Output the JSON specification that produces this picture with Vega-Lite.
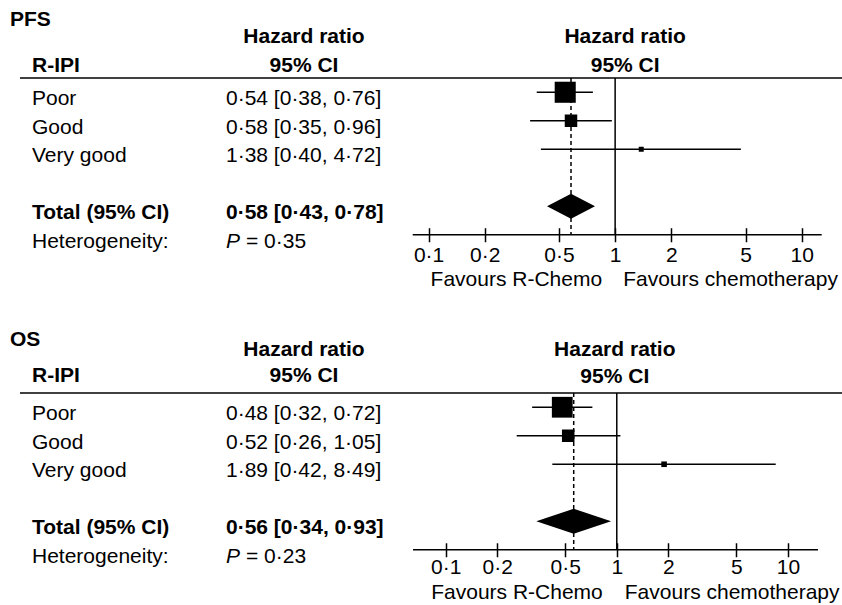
{
  "$schema": "https://vega.github.io/schema/vega-lite/v6.json",
  "background": "white",
  "padding": {"left": 10, "top": 9, "right": 0, "bottom": 0},
  "bounds": "flush",
  "datasets": {
    "pfs": [
      {"row": "hdr1", "head": "Hazard ratio", "panel": "PFS"},
      {"row": "hdr2", "head": "95% CI", "colhead": "R-IPI"},
      {"row": "Poor", "label": "Poor", "ci": "0·54 [0·38, 0·76]", "hr": 0.54, "lo": 0.38, "hi": 0.76, "weight": 71},
      {"row": "Good", "label": "Good", "ci": "0·58 [0·35, 0·96]", "hr": 0.58, "lo": 0.35, "hi": 0.96, "weight": 25},
      {"row": "Very good", "label": "Very good", "ci": "1·38 [0·40, 4·72]", "hr": 1.38, "lo": 0.40, "hi": 4.72, "weight": 4},
      {"row": "Total", "label": "Total (95% CI)", "ci": "0·58 [0·43, 0·78]", "hr": 0.58, "lo": 0.43, "hi": 0.78},
      {"row": "Het", "label": "Heterogeneity:", "p": "= 0·35", "favL": "Favours R-Chemo", "favR": "Favours chemotherapy"}
    ],
    "os": [
      {"row": "hdr1", "head": "Hazard ratio", "panel": "OS"},
      {"row": "hdr2", "head": "95% CI", "colhead": "R-IPI"},
      {"row": "Poor", "label": "Poor", "ci": "0·48 [0·32, 0·72]", "hr": 0.48, "lo": 0.32, "hi": 0.72, "weight": 69},
      {"row": "Good", "label": "Good", "ci": "0·52 [0·26, 1·05]", "hr": 0.52, "lo": 0.26, "hi": 1.05, "weight": 25},
      {"row": "Very good", "label": "Very good", "ci": "1·89 [0·42, 8·49]", "hr": 1.89, "lo": 0.42, "hi": 8.49, "weight": 5},
      {"row": "Total", "label": "Total (95% CI)", "ci": "0·56 [0·34, 0·93]", "hr": 0.56, "lo": 0.34, "hi": 0.93},
      {"row": "Het", "label": "Heterogeneity:", "p": "= 0·23", "favL": "Favours R-Chemo", "favR": "Favours chemotherapy"}
    ]
  },
  "spacing": 87,
  "vconcat": [
    {
      "data": {"name": "pfs"},
      "width": 822,
      "height": 228,
      "encoding": {"y": {"field": "row", "type": "nominal", "scale": {"type": "band", "domain": ["hdr1", "hdr2", "Poor", "Good", "Very good", "gap", "Total", "Het"], "paddingInner": 0, "paddingOuter": 0}, "axis": null}},
      "layer": [
        {"layer": [
          {"transform": [{"filter": "datum.row=='Poor'||datum.row=='Good'||datum.row=='Very good'||datum.row=='Het'"}, {"fold": ["label", "ci"], "as": ["col", "txt"]}, {"filter": "isValid(datum.txt)"}],
           "mark": {"type": "text", "align": "left", "dy": 7},
           "encoding": {"x": {"field": "col", "type": "nominal", "scale": {"type": "point", "domain": ["label", "ci"], "range": [12, 206], "padding": 0}, "axis": null}, "text": {"field": "txt"}}},
          {"transform": [{"filter": "datum.row=='Total'"}, {"fold": ["label", "ci"], "as": ["col", "txt"]}],
           "mark": {"type": "text", "align": "left", "dy": 7, "fontWeight": "bold"},
           "encoding": {"x": {"field": "col", "type": "nominal", "axis": null}, "text": {"field": "txt"}}},
          {"transform": [{"filter": "datum.row=='Het'"}],
           "mark": {"type": "text", "align": "left", "dy": 7, "fontStyle": "italic"},
           "encoding": {"x": {"datum": "ci", "type": "nominal", "axis": null}, "text": {"value": "P"}}},
          {"transform": [{"filter": "datum.row=='Het'"}],
           "mark": {"type": "text", "align": "left", "dy": 7, "dx": 20},
           "encoding": {"x": {"datum": "ci", "type": "nominal", "axis": null}, "text": {"field": "p"}}},
          {"transform": [{"filter": "isValid(datum.head)"}],
           "mark": {"type": "text", "align": "center", "dy": 2, "dx": 78, "fontWeight": "bold"},
           "encoding": {"x": {"datum": "ci", "type": "nominal", "axis": null}, "text": {"field": "head"}}},
          {"transform": [{"filter": "isValid(datum.colhead)"}],
           "mark": {"type": "text", "align": "left", "dy": 2, "fontWeight": "bold"},
           "encoding": {"x": {"datum": "label", "type": "nominal", "axis": null}, "text": {"field": "colhead"}}},
          {"transform": [{"filter": "isValid(datum.panel)"}],
           "mark": {"type": "text", "align": "left", "dy": -15, "dx": -22, "fontWeight": "bold"},
           "encoding": {"x": {"datum": "label", "type": "nominal", "axis": null}, "text": {"field": "panel"}}}
        ]},
        {"layer": [
          {"transform": [{"filter": "datum.row=='Total'"}],
           "mark": {"type": "rule", "strokeWidth": 1.5, "color": "black"},
           "encoding": {"y": {"datum": "Poor", "type": "nominal", "bandPosition": 0, "axis": null}}},
          {"transform": [{"filter": "datum.row=='Total'"}],
           "mark": {"type": "rule", "strokeWidth": 1.5, "color": "black"},
           "encoding": {"x": {"datum": 1, "type": "quantitative", "scale": {"type": "log", "domain": [0.0822, 12.8], "range": [392.7, 801.7], "nice": false},
                              "axis": {"values": [0.1, 0.2, 0.5, 1, 2, 5, 10], "format": "~g", "labelExpr": "replace(datum.label, '.', '·')", "domain": false, "ticks": true, "tickSize": 14, "tickWidth": 1.5, "tickColor": "black", "offset": -21.25, "labelFontSize": 21, "labelColor": "black", "labelFont": "Liberation Sans", "labelPadding": 3, "grid": false, "title": null, "labelFlush": false, "labelOverlap": false}},
                        "y": {"datum": "Poor", "type": "nominal", "bandPosition": 0, "axis": null}, "y2": {"datum": "Het"}}},
          {"transform": [{"filter": "datum.row=='Total'"}],
           "mark": {"type": "rule", "strokeWidth": 1.5, "color": "black", "strokeDash": [4, 3]},
           "encoding": {"x": {"field": "hr", "type": "quantitative", "title": null, "scale": {"type": "log", "domain": [0.0822, 12.8], "range": [392.7, 801.7], "nice": false},
                              "axis": {"values": [0.1, 0.2, 0.5, 1, 2, 5, 10], "format": "~g", "labelExpr": "replace(datum.label, '.', '·')", "domain": false, "ticks": true, "tickSize": 14, "tickWidth": 1.5, "tickColor": "black", "offset": -21.25, "labelFontSize": 21, "labelColor": "black", "labelFont": "Liberation Sans", "labelPadding": 3, "grid": false, "title": null, "labelFlush": false, "labelOverlap": false}},
                        "y": {"datum": "Poor", "type": "nominal", "bandPosition": 0, "axis": null}, "y2": {"datum": "Het"}}},
          {"transform": [{"filter": "isValid(datum.weight)"}],
           "mark": {"type": "rule", "strokeWidth": 1.5, "color": "black"},
           "encoding": {"x": {"field": "lo", "type": "quantitative", "title": null, "scale": {"type": "log", "domain": [0.0822, 12.8], "range": [392.7, 801.7], "nice": false},
                              "axis": {"values": [0.1, 0.2, 0.5, 1, 2, 5, 10], "format": "~g", "labelExpr": "replace(datum.label, '.', '·')", "domain": false, "ticks": true, "tickSize": 14, "tickWidth": 1.5, "tickColor": "black", "offset": -21.25, "labelFontSize": 21, "labelColor": "black", "labelFont": "Liberation Sans", "labelPadding": 3, "grid": false, "title": null, "labelFlush": false, "labelOverlap": false}},
                        "x2": {"field": "hi"}}},
          {"transform": [{"filter": "isValid(datum.weight)"}],
           "mark": {"type": "point", "shape": "square", "filled": true, "color": "black", "opacity": 1},
           "encoding": {"x": {"field": "hr", "type": "quantitative", "title": null, "scale": {"type": "log", "domain": [0.0822, 12.8], "range": [392.7, 801.7], "nice": false},
                              "axis": {"values": [0.1, 0.2, 0.5, 1, 2, 5, 10], "format": "~g", "labelExpr": "replace(datum.label, '.', '·')", "domain": false, "ticks": true, "tickSize": 14, "tickWidth": 1.5, "tickColor": "black", "offset": -21.25, "labelFontSize": 21, "labelColor": "black", "labelFont": "Liberation Sans", "labelPadding": 3, "grid": false, "title": null, "labelFlush": false, "labelOverlap": false}},
                        "size": {"field": "weight", "type": "quantitative", "scale": {"domain": [0, 100], "range": [0, 625]}, "legend": null}}},
          {"transform": [{"filter": "datum.row=='Total'"}],
           "mark": {"type": "point", "shape": "M-1,0L0,-0.521L1,0L0,0.521Z", "size": 2304, "filled": true, "color": "black", "opacity": 1, "strokeWidth": 0},
           "encoding": {"x": {"field": "hr", "type": "quantitative", "title": null, "scale": {"type": "log", "domain": [0.0822, 12.8], "range": [392.7, 801.7], "nice": false},
                              "axis": {"values": [0.1, 0.2, 0.5, 1, 2, 5, 10], "format": "~g", "labelExpr": "replace(datum.label, '.', '·')", "domain": false, "ticks": true, "tickSize": 14, "tickWidth": 1.5, "tickColor": "black", "offset": -21.25, "labelFontSize": 21, "labelColor": "black", "labelFont": "Liberation Sans", "labelPadding": 3, "grid": false, "title": null, "labelFlush": false, "labelOverlap": false}}}},
          {"transform": [{"filter": "datum.row=='Total'"}],
           "mark": {"type": "rule", "strokeWidth": 1.5, "color": "black"},
           "encoding": {"x": {"datum": 0.0822, "type": "quantitative", "scale": {"type": "log", "domain": [0.0822, 12.8], "range": [392.7, 801.7], "nice": false},
                              "axis": {"values": [0.1, 0.2, 0.5, 1, 2, 5, 10], "format": "~g", "labelExpr": "replace(datum.label, '.', '·')", "domain": false, "ticks": true, "tickSize": 14, "tickWidth": 1.5, "tickColor": "black", "offset": -21.25, "labelFontSize": 21, "labelColor": "black", "labelFont": "Liberation Sans", "labelPadding": 3, "grid": false, "title": null, "labelFlush": false, "labelOverlap": false}},
                        "x2": {"datum": 12.8},
                        "y": {"datum": "Het", "type": "nominal", "axis": null}}},
          {"transform": [{"filter": "isValid(datum.head)"}],
           "mark": {"type": "text", "align": "center", "dy": 2, "dx": 10, "fontWeight": "bold"},
           "encoding": {"x": {"datum": 1, "type": "quantitative", "scale": {"type": "log", "domain": [0.0822, 12.8], "range": [392.7, 801.7], "nice": false},
                              "axis": {"values": [0.1, 0.2, 0.5, 1, 2, 5, 10], "format": "~g", "labelExpr": "replace(datum.label, '.', '·')", "domain": false, "ticks": true, "tickSize": 14, "tickWidth": 1.5, "tickColor": "black", "offset": -21.25, "labelFontSize": 21, "labelColor": "black", "labelFont": "Liberation Sans", "labelPadding": 3, "grid": false, "title": null, "labelFlush": false, "labelOverlap": false}},
                        "text": {"field": "head"}}},
          {"transform": [{"filter": "datum.row=='Het'"}],
           "mark": {"type": "text", "align": "right", "dy": 45, "dx": -13},
           "encoding": {"x": {"datum": 1, "type": "quantitative", "scale": {"type": "log", "domain": [0.0822, 12.8], "range": [392.7, 801.7], "nice": false},
                              "axis": {"values": [0.1, 0.2, 0.5, 1, 2, 5, 10], "format": "~g", "labelExpr": "replace(datum.label, '.', '·')", "domain": false, "ticks": true, "tickSize": 14, "tickWidth": 1.5, "tickColor": "black", "offset": -21.25, "labelFontSize": 21, "labelColor": "black", "labelFont": "Liberation Sans", "labelPadding": 3, "grid": false, "title": null, "labelFlush": false, "labelOverlap": false}},
                        "text": {"field": "favL"}}},
          {"transform": [{"filter": "datum.row=='Het'"}],
           "mark": {"type": "text", "align": "left", "dy": 45, "dx": 8},
           "encoding": {"x": {"datum": 1, "type": "quantitative", "scale": {"type": "log", "domain": [0.0822, 12.8], "range": [392.7, 801.7], "nice": false},
                              "axis": {"values": [0.1, 0.2, 0.5, 1, 2, 5, 10], "format": "~g", "labelExpr": "replace(datum.label, '.', '·')", "domain": false, "ticks": true, "tickSize": 14, "tickWidth": 1.5, "tickColor": "black", "offset": -21.25, "labelFontSize": 21, "labelColor": "black", "labelFont": "Liberation Sans", "labelPadding": 3, "grid": false, "title": null, "labelFlush": false, "labelOverlap": false}},
                        "text": {"field": "favR"}}}
        ]}
      ],
      "resolve": {"scale": {"x": "independent"}}
    },
    {
      "data": {"name": "os"},
      "width": 822,
      "height": 228,
      "encoding": {"y": {"field": "row", "type": "nominal", "scale": {"type": "band", "domain": ["hdr1", "hdr2", "Poor", "Good", "Very good", "gap", "Total", "Het"], "paddingInner": 0, "paddingOuter": 0}, "axis": null}},
      "layer": [
        {"layer": [
          {"transform": [{"filter": "datum.row=='Poor'||datum.row=='Good'||datum.row=='Very good'||datum.row=='Het'"}, {"fold": ["label", "ci"], "as": ["col", "txt"]}, {"filter": "isValid(datum.txt)"}],
           "mark": {"type": "text", "align": "left", "dy": 7},
           "encoding": {"x": {"field": "col", "type": "nominal", "scale": {"type": "point", "domain": ["label", "ci"], "range": [12, 206], "padding": 0}, "axis": null}, "text": {"field": "txt"}}},
          {"transform": [{"filter": "datum.row=='Total'"}, {"fold": ["label", "ci"], "as": ["col", "txt"]}],
           "mark": {"type": "text", "align": "left", "dy": 7, "fontWeight": "bold"},
           "encoding": {"x": {"field": "col", "type": "nominal", "axis": null}, "text": {"field": "txt"}}},
          {"transform": [{"filter": "datum.row=='Het'"}],
           "mark": {"type": "text", "align": "left", "dy": 7, "fontStyle": "italic"},
           "encoding": {"x": {"datum": "ci", "type": "nominal", "axis": null}, "text": {"value": "P"}}},
          {"transform": [{"filter": "datum.row=='Het'"}],
           "mark": {"type": "text", "align": "left", "dy": 7, "dx": 20},
           "encoding": {"x": {"datum": "ci", "type": "nominal", "axis": null}, "text": {"field": "p"}}},
          {"transform": [{"filter": "datum.row=='hdr1'"}],
           "mark": {"type": "text", "align": "center", "dy": 0, "dx": 78, "fontWeight": "bold"},
           "encoding": {"x": {"datum": "ci", "type": "nominal", "axis": null}, "text": {"field": "head"}}},
          {"transform": [{"filter": "datum.row=='hdr2'"}],
           "mark": {"type": "text", "align": "center", "dy": -3, "dx": 78, "fontWeight": "bold"},
           "encoding": {"x": {"datum": "ci", "type": "nominal", "axis": null}, "text": {"field": "head"}}},
          {"transform": [{"filter": "isValid(datum.colhead)"}],
           "mark": {"type": "text", "align": "left", "dy": -3, "fontWeight": "bold"},
           "encoding": {"x": {"datum": "label", "type": "nominal", "axis": null}, "text": {"field": "colhead"}}},
          {"transform": [{"filter": "isValid(datum.panel)"}],
           "mark": {"type": "text", "align": "left", "dy": -10, "dx": -22, "fontWeight": "bold"},
           "encoding": {"x": {"datum": "label", "type": "nominal", "axis": null}, "text": {"field": "panel"}}}
        ]},
        {"layer": [
          {"transform": [{"filter": "datum.row=='Total'"}],
           "mark": {"type": "rule", "strokeWidth": 1.5, "color": "black"},
           "encoding": {"y": {"datum": "Poor", "type": "nominal", "bandPosition": 0, "axis": null}}},
          {"transform": [{"filter": "datum.row=='Total'"}],
           "mark": {"type": "rule", "strokeWidth": 1.5, "color": "black"},
           "encoding": {"x": {"datum": 1, "type": "quantitative", "scale": {"type": "log", "domain": [0.0644, 15.0], "range": [393, 798], "nice": false},
                              "axis": {"values": [0.1, 0.2, 0.5, 1, 2, 5, 10], "format": "~g", "labelExpr": "replace(datum.label, '.', '·')", "domain": false, "ticks": true, "tickSize": 14, "tickWidth": 1.5, "tickColor": "black", "offset": -21.25, "labelFontSize": 21, "labelColor": "black", "labelFont": "Liberation Sans", "labelPadding": 0, "grid": false, "title": null, "labelFlush": false, "labelOverlap": false}},
                        "y": {"datum": "Poor", "type": "nominal", "bandPosition": 0, "axis": null}, "y2": {"datum": "Het"}}},
          {"transform": [{"filter": "datum.row=='Total'"}],
           "mark": {"type": "rule", "strokeWidth": 1.5, "color": "black", "strokeDash": [4, 3]},
           "encoding": {"x": {"field": "hr", "type": "quantitative", "title": null, "scale": {"type": "log", "domain": [0.0644, 15.0], "range": [393, 798], "nice": false},
                              "axis": {"values": [0.1, 0.2, 0.5, 1, 2, 5, 10], "format": "~g", "labelExpr": "replace(datum.label, '.', '·')", "domain": false, "ticks": true, "tickSize": 14, "tickWidth": 1.5, "tickColor": "black", "offset": -21.25, "labelFontSize": 21, "labelColor": "black", "labelFont": "Liberation Sans", "labelPadding": 0, "grid": false, "title": null, "labelFlush": false, "labelOverlap": false}},
                        "y": {"datum": "Poor", "type": "nominal", "bandPosition": 0, "axis": null}, "y2": {"datum": "Het"}}},
          {"transform": [{"filter": "isValid(datum.weight)"}],
           "mark": {"type": "rule", "strokeWidth": 1.5, "color": "black"},
           "encoding": {"x": {"field": "lo", "type": "quantitative", "title": null, "scale": {"type": "log", "domain": [0.0644, 15.0], "range": [393, 798], "nice": false},
                              "axis": {"values": [0.1, 0.2, 0.5, 1, 2, 5, 10], "format": "~g", "labelExpr": "replace(datum.label, '.', '·')", "domain": false, "ticks": true, "tickSize": 14, "tickWidth": 1.5, "tickColor": "black", "offset": -21.25, "labelFontSize": 21, "labelColor": "black", "labelFont": "Liberation Sans", "labelPadding": 0, "grid": false, "title": null, "labelFlush": false, "labelOverlap": false}},
                        "x2": {"field": "hi"}}},
          {"transform": [{"filter": "isValid(datum.weight)"}],
           "mark": {"type": "point", "shape": "square", "filled": true, "color": "black", "opacity": 1},
           "encoding": {"x": {"field": "hr", "type": "quantitative", "title": null, "scale": {"type": "log", "domain": [0.0644, 15.0], "range": [393, 798], "nice": false},
                              "axis": {"values": [0.1, 0.2, 0.5, 1, 2, 5, 10], "format": "~g", "labelExpr": "replace(datum.label, '.', '·')", "domain": false, "ticks": true, "tickSize": 14, "tickWidth": 1.5, "tickColor": "black", "offset": -21.25, "labelFontSize": 21, "labelColor": "black", "labelFont": "Liberation Sans", "labelPadding": 0, "grid": false, "title": null, "labelFlush": false, "labelOverlap": false}},
                        "size": {"field": "weight", "type": "quantitative", "scale": {"domain": [0, 100], "range": [0, 625]}, "legend": null}}},
          {"transform": [{"filter": "datum.row=='Total'"}],
           "mark": {"type": "point", "shape": "M-1,0L0,-0.334L1,0L0,0.334Z", "size": 5595, "filled": true, "color": "black", "opacity": 1, "strokeWidth": 0},
           "encoding": {"x": {"field": "hr", "type": "quantitative", "title": null, "scale": {"type": "log", "domain": [0.0644, 15.0], "range": [393, 798], "nice": false},
                              "axis": {"values": [0.1, 0.2, 0.5, 1, 2, 5, 10], "format": "~g", "labelExpr": "replace(datum.label, '.', '·')", "domain": false, "ticks": true, "tickSize": 14, "tickWidth": 1.5, "tickColor": "black", "offset": -21.25, "labelFontSize": 21, "labelColor": "black", "labelFont": "Liberation Sans", "labelPadding": 0, "grid": false, "title": null, "labelFlush": false, "labelOverlap": false}}}},
          {"transform": [{"filter": "datum.row=='Total'"}],
           "mark": {"type": "rule", "strokeWidth": 1.5, "color": "black"},
           "encoding": {"x": {"datum": 0.0644, "type": "quantitative", "scale": {"type": "log", "domain": [0.0644, 15.0], "range": [393, 798], "nice": false},
                              "axis": {"values": [0.1, 0.2, 0.5, 1, 2, 5, 10], "format": "~g", "labelExpr": "replace(datum.label, '.', '·')", "domain": false, "ticks": true, "tickSize": 14, "tickWidth": 1.5, "tickColor": "black", "offset": -21.25, "labelFontSize": 21, "labelColor": "black", "labelFont": "Liberation Sans", "labelPadding": 0, "grid": false, "title": null, "labelFlush": false, "labelOverlap": false}},
                        "x2": {"datum": 15.0},
                        "y": {"datum": "Het", "type": "nominal", "axis": null}}},
          {"transform": [{"filter": "datum.row=='hdr1'"}],
           "mark": {"type": "text", "align": "center", "dy": 0, "dx": -2, "fontWeight": "bold"},
           "encoding": {"x": {"datum": 1, "type": "quantitative", "scale": {"type": "log", "domain": [0.0644, 15.0], "range": [393, 798], "nice": false},
                              "axis": {"values": [0.1, 0.2, 0.5, 1, 2, 5, 10], "format": "~g", "labelExpr": "replace(datum.label, '.', '·')", "domain": false, "ticks": true, "tickSize": 14, "tickWidth": 1.5, "tickColor": "black", "offset": -21.25, "labelFontSize": 21, "labelColor": "black", "labelFont": "Liberation Sans", "labelPadding": 0, "grid": false, "title": null, "labelFlush": false, "labelOverlap": false}},
                        "text": {"field": "head"}}},
          {"transform": [{"filter": "datum.row=='hdr2'"}],
           "mark": {"type": "text", "align": "center", "dy": -2, "dx": -2, "fontWeight": "bold"},
           "encoding": {"x": {"datum": 1, "type": "quantitative", "scale": {"type": "log", "domain": [0.0644, 15.0], "range": [393, 798], "nice": false},
                              "axis": {"values": [0.1, 0.2, 0.5, 1, 2, 5, 10], "format": "~g", "labelExpr": "replace(datum.label, '.', '·')", "domain": false, "ticks": true, "tickSize": 14, "tickWidth": 1.5, "tickColor": "black", "offset": -21.25, "labelFontSize": 21, "labelColor": "black", "labelFont": "Liberation Sans", "labelPadding": 0, "grid": false, "title": null, "labelFlush": false, "labelOverlap": false}},
                        "text": {"field": "head"}}},
          {"transform": [{"filter": "datum.row=='Het'"}],
           "mark": {"type": "text", "align": "right", "dy": 43, "dx": -14},
           "encoding": {"x": {"datum": 1, "type": "quantitative", "scale": {"type": "log", "domain": [0.0644, 15.0], "range": [393, 798], "nice": false},
                              "axis": {"values": [0.1, 0.2, 0.5, 1, 2, 5, 10], "format": "~g", "labelExpr": "replace(datum.label, '.', '·')", "domain": false, "ticks": true, "tickSize": 14, "tickWidth": 1.5, "tickColor": "black", "offset": -21.25, "labelFontSize": 21, "labelColor": "black", "labelFont": "Liberation Sans", "labelPadding": 0, "grid": false, "title": null, "labelFlush": false, "labelOverlap": false}},
                        "text": {"field": "favL"}}},
          {"transform": [{"filter": "datum.row=='Het'"}],
           "mark": {"type": "text", "align": "left", "dy": 43, "dx": 8},
           "encoding": {"x": {"datum": 1, "type": "quantitative", "scale": {"type": "log", "domain": [0.0644, 15.0], "range": [393, 798], "nice": false},
                              "axis": {"values": [0.1, 0.2, 0.5, 1, 2, 5, 10], "format": "~g", "labelExpr": "replace(datum.label, '.', '·')", "domain": false, "ticks": true, "tickSize": 14, "tickWidth": 1.5, "tickColor": "black", "offset": -21.25, "labelFontSize": 21, "labelColor": "black", "labelFont": "Liberation Sans", "labelPadding": 0, "grid": false, "title": null, "labelFlush": false, "labelOverlap": false}},
                        "text": {"field": "favR"}}}
        ]}
      ],
      "resolve": {"scale": {"x": "independent"}}
    }
  ],
  "config": {
    "view": {"stroke": null},
    "font": "Liberation Sans",
    "text": {"fontSize": 21, "color": "black", "font": "Liberation Sans"}
  }
}
